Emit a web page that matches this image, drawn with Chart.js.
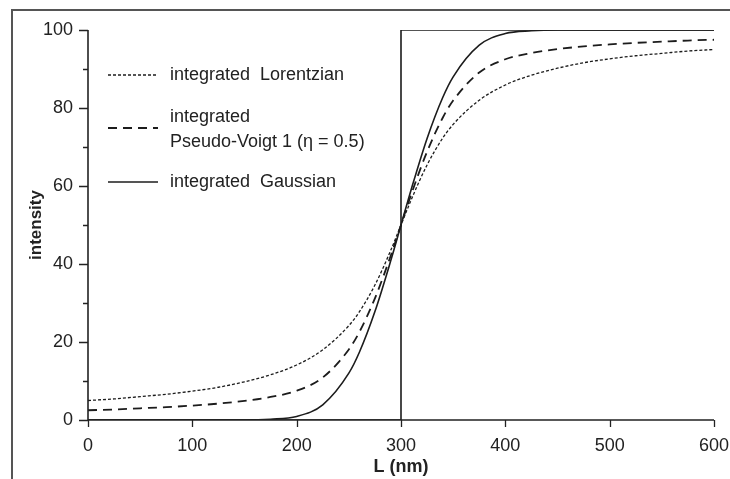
<!DOCTYPE html>
<html>
<head>
<meta charset="utf-8">
<script src="https://cdn.jsdelivr.net/npm/chart.js@4.4.1/dist/chart.umd.min.js"></script>
<style>
  html, body { margin: 0; padding: 0; background: #fff; }
  #wrap { width: 730px; height: 479px; position: relative; }
</style>
</head>
<body>
<div id="wrap"><canvas id="mainChart"></canvas></div>
<script>
// wavelength grid (nm) shared by the three profile curves
const wavelengths = [0, 25, 50, 75, 100, 125, 150, 175, 200, 225, 250, 260, 275, 290, 300,
                     310, 325, 340, 350, 375, 400, 425, 450, 475, 500, 525, 550, 575, 600];

// integrated profiles, intensity in %
const lorentzian = [5.0, 5.4, 6.0, 6.6, 7.4, 8.4, 9.8, 11.6, 14.1, 18.0, 24.2, 27.7, 34.6, 43.4, 50,
                    56.6, 65.4, 72.3, 75.8, 82.0, 85.9, 88.4, 90.2, 91.6, 92.6, 93.4, 94.0, 94.6, 95.0];
const pseudoVoigt = [2.5, 2.7, 3.0, 3.3, 3.7, 4.2, 4.9, 5.9, 7.5, 10.9, 18.1, 22.5, 31.2, 42.0, 50,
                     58.0, 68.8, 77.5, 81.9, 89.1, 92.5, 94.1, 95.1, 95.8, 96.3, 96.7, 97.0, 97.3, 97.5];
const gaussian = [0, 0, 0, 0, 0, 0, 0, 0.2, 0.9, 3.9, 12.0, 17.3, 27.8, 40.7, 50,
                  59.3, 72.2, 82.7, 88.0, 96.1, 99.1, 99.8, 100, 100, 100, 100, 100, 100, 100];

// ideal step edge
const stepX = [0, 300, 300, 600];
const stepY = [0, 0, 100, 100];

const xTicks = [0, 100, 200, 300, 400, 500, 600];
const yTicks = [0, 20, 40, 60, 80, 100];

const FONT = '"Liberation Sans", Arial, Helvetica, sans-serif';
const INK = '#1c1c1c';

const toPoints = (xs, ys) => xs.map((x, i) => ({ x: x, y: ys[i] }));

// outer frame of the figure
const framePlugin = {
    id: 'frame',
    beforeDraw(chart) {
        const c = chart.ctx;
        c.save();
        c.strokeStyle = '#555';
        c.lineWidth = 2;
        c.beginPath();
        c.moveTo(12, 479);
        c.lineTo(12, 10);
        c.lineTo(730, 10);
        c.stroke();
        c.restore();
    }
};

// axis lines with major / minor tick marks
const axesPlugin = {
    id: 'axesTicks',
    afterDatasetsDraw(chart) {
        const c = chart.ctx;
        const xs = chart.scales.x, ys = chart.scales.y;
        const area = chart.chartArea;
        c.save();
        c.strokeStyle = '#222';
        c.lineWidth = 1.6;
        c.beginPath();
        c.moveTo(area.left, area.top);
        c.lineTo(area.left, area.bottom);
        c.lineTo(area.right, area.bottom);
        c.stroke();
        c.lineWidth = 1.3;
        c.beginPath();
        for (let v = 0; v <= 100; v += 10) {
            const py = Math.round(ys.getPixelForValue(v)) + 0.5;
            const len = v % 20 === 0 ? 9 : 5;
            c.moveTo(area.left - len, py);
            c.lineTo(area.left, py);
        }
        xTicks.forEach(v => {
            const px = Math.round(xs.getPixelForValue(v)) + 0.5;
            c.moveTo(px, area.bottom);
            c.lineTo(px, area.bottom + 7);
        });
        c.stroke();
        c.restore();
    }
};

// legend drawn inside the plot area
const legendPlugin = {
    id: 'innerLegend',
    afterDraw(chart) {
        const c = chart.ctx;
        const entries = [
            { ds: 0, lineY: 75, lines: [['integrated  Lorentzian', 75]] },
            { ds: 1, lineY: 128, lines: [['integrated', 117], ['Pseudo-Voigt 1 (\u03B7 = 0.5)', 142]] },
            { ds: 2, lineY: 182, lines: [['integrated  Gaussian', 182]] }
        ];
        c.save();
        entries.forEach(e => {
            const ds = chart.data.datasets[e.ds];
            c.strokeStyle = ds.borderColor;
            c.lineWidth = ds.borderWidth;
            c.setLineDash(ds.borderDash || []);
            c.beginPath();
            c.moveTo(108, e.lineY);
            c.lineTo(158, e.lineY);
            c.stroke();
            c.setLineDash([]);
            c.fillStyle = '#222';
            c.font = '18px ' + FONT;
            c.textBaseline = 'middle';
            e.lines.forEach(([txt, y]) => c.fillText(txt, 170, y));
        });
        c.restore();
    }
};

new Chart(document.getElementById('mainChart'), {
    type: 'line',
    data: {
        datasets: [
            {
                label: 'integrated Lorentzian',
                data: toPoints(wavelengths, lorentzian),
                borderColor: INK,
                borderWidth: 1.3,
                borderDash: [3, 2],
                cubicInterpolationMode: 'monotone'
            },
            {
                label: 'integrated Pseudo-Voigt 1 (\u03B7 = 0.5)',
                data: toPoints(wavelengths, pseudoVoigt),
                borderColor: INK,
                borderWidth: 1.8,
                borderDash: [9, 6],
                cubicInterpolationMode: 'monotone'
            },
            {
                label: 'integrated Gaussian',
                data: toPoints(wavelengths, gaussian),
                borderColor: INK,
                borderWidth: 1.6,
                cubicInterpolationMode: 'monotone'
            },
            {
                label: 'step',
                data: toPoints(stepX, stepY),
                borderColor: INK,
                borderWidth: 1.6,
                tension: 0
            }
        ]
    },
    options: {
        responsive: true,
        maintainAspectRatio: false,
        animation: false,
        events: [],
        elements: { point: { radius: 0 } },
        layout: { padding: { left: 0, top: 30, right: 16, bottom: 0 } },
        plugins: {
            legend: { display: false },
            tooltip: { enabled: false }
        },
        scales: {
            x: {
                type: 'linear',
                min: 0,
                max: 600,
                afterFit: s => { s.height = 59; s.paddingLeft = 0; s.paddingRight = 0; },
                afterBuildTicks: s => { s.ticks = xTicks.map(v => ({ value: v })); },
                border: { display: false },
                grid: { display: false },
                ticks: { color: '#222', padding: 7, font: { family: FONT, size: 18 } },
                title: {
                    display: true,
                    text: 'L (nm)',
                    color: '#222',
                    padding: { top: 0, bottom: 1 },
                    font: { family: FONT, size: 18, weight: 'bold' }
                }
            },
            y: {
                min: 0,
                max: 100,
                afterFit: s => { s.width = 88; },
                afterBuildTicks: s => { s.ticks = yTicks.map(v => ({ value: v })); },
                border: { display: false },
                grid: { display: false },
                ticks: { color: '#222', padding: 7, font: { family: FONT, size: 18 } },
                title: {
                    display: true,
                    text: 'intensity',
                    color: '#222',
                    padding: { top: 26, bottom: 0 },
                    font: { family: FONT, size: 17, weight: 'bold' }
                }
            }
        }
    },
    plugins: [framePlugin, axesPlugin, legendPlugin]
});
</script>
</body>
</html>
